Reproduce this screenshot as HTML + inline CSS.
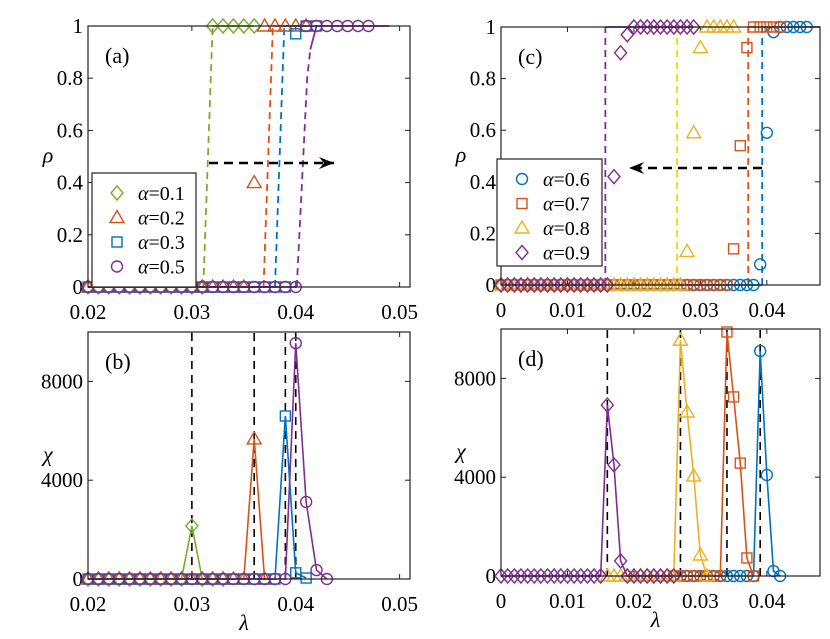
<!DOCTYPE html>
<html><head><meta charset="utf-8"><style>
html,body{margin:0;padding:0;background:#fff}
svg{display:block;font-family:"Liberation Serif","DejaVu Serif",serif}
svg text{font-family:"Liberation Serif","DejaVu Serif",serif;fill:#000}
</style></head><body>
<svg id="chart" width="830" height="639" viewBox="0 0 830 639" font-family="Liberation Serif, serif" xmlns="http://www.w3.org/2000/svg"></svg>
<script>
// ---------- Panel (a) data: rho vs lambda ----------
const aGreenX=[0.020,0.021,0.022,0.023,0.024,0.025,0.026,0.027,0.028,0.029,0.030,0.031,0.032,0.033,0.034,0.035,0.036];
const aGreenY=[0,0,0,0,0,0,0,0,0,0,0,0,1,1,1,1,1];
const aOrangeX=[0.020,0.021,0.022,0.023,0.024,0.025,0.026,0.027,0.028,0.029,0.030,0.031,0.032,0.033,0.034,0.035,0.036,0.037,0.038,0.039,0.040,0.041];
const aOrangeY=[0,0,0,0,0,0,0,0,0,0,0,0,0,0,0,0,0.40,1,1,1,1,1];
const aBlueX=[0.020,0.021,0.022,0.023,0.024,0.025,0.026,0.027,0.028,0.029,0.030,0.031,0.032,0.033,0.034,0.035,0.036,0.037,0.038,0.039,0.040,0.041,0.042];
const aBlueY=[0,0,0,0,0,0,0,0,0,0,0,0,0,0,0,0,0,0,0,0,0.97,1,1];
const aPurpleX=[0.020,0.021,0.022,0.023,0.024,0.025,0.026,0.027,0.028,0.029,0.030,0.031,0.032,0.033,0.034,0.035,0.036,0.037,0.038,0.039,0.040,0.041,0.042,0.043,0.044,0.045,0.046,0.047];
const aPurpleY=[0,0,0,0,0,0,0,0,0,0,0,0,0,0,0,0,0,0,0,0,0,1,1,1,1,1,1,1];
const aCritLow=[0.0311,0.0369,0.0380,0.0401];
const aCritHigh=[0.0320,0.0378,0.0389,0.0414];
const aTopEnd=[0.036,0.041,0.042,0.049];
// ---------- Panel (b) data: chi ----------
const bGreenX=[0.020,0.021,0.022,0.023,0.024,0.025,0.026,0.027,0.028,0.029,0.030,0.031,0.032,0.033];
const bGreenY=[0,0,0,0,0,0,0,0,0,0,2150,0,0,0];
const bOrangeX=[0.020,0.021,0.022,0.023,0.024,0.025,0.026,0.027,0.028,0.029,0.030,0.031,0.032,0.033,0.034,0.035,0.036,0.037];
const bOrangeY=[0,0,0,0,0,0,0,0,0,0,0,0,0,0,0,0,5670,0];
const bBlueX=[0.020,0.021,0.022,0.023,0.024,0.025,0.026,0.027,0.028,0.029,0.030,0.031,0.032,0.033,0.034,0.035,0.036,0.037,0.038,0.039,0.040,0.041];
const bBlueY=[0,0,0,0,0,0,0,0,0,0,0,0,0,0,0,0,0,0,0,6600,250,40];
const bPurpleX=[0.020,0.021,0.022,0.023,0.024,0.025,0.026,0.027,0.028,0.029,0.030,0.031,0.032,0.033,0.034,0.035,0.036,0.037,0.038,0.039,0.040,0.041,0.042,0.043];
const bPurpleY=[0,0,0,0,0,0,0,0,0,0,0,0,0,0,0,0,0,0,0,0,9550,3120,360,0];
const bCrit=[0.030,0.036,0.039,0.040];
// ---------- Panel (c) data ----------
const cBlueX=[0,0.001,0.002,0.003,0.004,0.005,0.006,0.007,0.008,0.009,0.010,0.011,0.012,0.013,0.014,0.015,0.016,0.017,0.018,0.019,0.020,0.021,0.022,0.023,0.024,0.025,0.026,0.027,0.028,0.029,0.030,0.031,0.032,0.033,0.034,0.035,0.036,0.037,0.038,0.039,0.040,0.041,0.042,0.043,0.044,0.045,0.046];
const cBlueY=[0,0,0,0,0,0,0,0,0,0,0,0,0,0,0,0,0,0,0,0,0,0,0,0,0,0,0,0,0,0,0,0,0,0,0,0,0,0,0,0.08,0.59,0.98,1,1,1,1,1];
const cOrangeX=[0,0.001,0.002,0.003,0.004,0.005,0.006,0.007,0.008,0.009,0.010,0.011,0.012,0.013,0.014,0.015,0.016,0.017,0.018,0.019,0.020,0.021,0.022,0.023,0.024,0.025,0.026,0.027,0.028,0.029,0.030,0.031,0.032,0.033,0.034,0.035,0.036,0.037,0.038,0.039,0.040,0.041,0.042];
const cOrangeY=[0,0,0,0,0,0,0,0,0,0,0,0,0,0,0,0,0,0,0,0,0,0,0,0,0,0,0,0,0,0,0,0,0,0,0,0.14,0.54,0.92,1,1,1,1,1];
const cYellowX=[0,0.001,0.002,0.003,0.004,0.005,0.006,0.007,0.008,0.009,0.010,0.011,0.012,0.013,0.014,0.015,0.016,0.017,0.018,0.019,0.020,0.021,0.022,0.023,0.024,0.025,0.026,0.027,0.028,0.029,0.030,0.031,0.032,0.033,0.034,0.035];
const cYellowY=[0,0,0,0,0,0,0,0,0,0,0,0,0,0,0,0,0,0,0,0,0,0,0,0,0,0,0,0,0.13,0.59,0.92,1,1,1,1,1];
const cPurpleX=[0,0.001,0.002,0.003,0.004,0.005,0.006,0.007,0.008,0.009,0.010,0.011,0.012,0.013,0.014,0.015,0.016,0.017,0.018,0.019,0.020,0.021,0.022,0.023,0.024,0.025,0.026,0.027,0.028,0.029];
const cPurpleY=[0,0,0,0,0,0,0,0,0,0,0,0,0,0,0,0,0,0.42,0.90,0.97,1,1,1,1,1,1,1,1,1,1];
const cCrit=[0.0393,0.0372,0.0265,0.0157];
const cTopEnd=[0.048,0.048,0.035,0.029];
// ---------- Panel (d) data ----------
const dBlueX=[0.026,0.027,0.028,0.029,0.030,0.031,0.032,0.033,0.034,0.035,0.036,0.037,0.038,0.039,0.040,0.041,0.042];
const dBlueY=[0,0,0,0,0,0,0,0,0,0,0,0,0,9110,4090,200,0];
const dOrangeX=[0.026,0.027,0.028,0.029,0.030,0.031,0.032,0.033,0.034,0.035,0.036,0.037,0.038];
const dOrangeY=[0,0,0,0,0,0,0,0,9880,7250,4570,730,0];
const dYellowX=[0.016,0.017,0.018,0.019,0.020,0.021,0.022,0.023,0.024,0.025,0.026,0.027,0.028,0.029,0.030,0.031];
const dYellowY=[0,0,0,0,0,0,0,0,0,0,0,9550,6640,4050,850,0];
const dPurpleX=[0,0.001,0.002,0.003,0.004,0.005,0.006,0.007,0.008,0.009,0.010,0.011,0.012,0.013,0.014,0.015,0.016,0.017,0.018,0.019,0.020,0.021,0.022,0.023,0.024,0.025,0.026];
const dPurpleY=[0,0,0,0,0,0,0,0,0,0,0,0,0,0,0,0,6920,4500,610,0,0,0,0,0,0,0,0];
const dCrit=[0.016,0.027,0.034,0.039];
const tickA=[0.02,0.03,0.04,0.05];
const tickC=[0,0.01,0.02,0.03,0.04];
const tickRho=[0,0.2,0.4,0.6,0.8,1];
const tickChi=[0,4000,8000];

const G='#77AC30',O='#D95319',B='#0072BD',P='#7E2F8E',Y='#EDB120',YD='#F7D900';
const FF='Liberation Serif, DejaVu Serif, serif';
const NS='http://www.w3.org/2000/svg';
const svg=document.getElementById('chart');
function el(tag,attrs,parent){const e=document.createElementNS(NS,tag);for(const k in attrs)e.setAttribute(k,attrs[k]);if(tag==='text')e.setAttribute('font-family',FF);(parent||svg).appendChild(e);return e;}
function axis(px0,px1,xmin,xmax,py0,py1,ymin,ymax){return {sx:v=>px0+(v-xmin)/(xmax-xmin)*(px1-px0),sy:v=>py0-(v-ymin)/(ymax-ymin)*(py0-py1),px0,px1,py0,py1};}
function fmt(v){return String(v);}
function frame(ax,name,xt,yt,ylab,label,xlabShow){
  const g=el('g',{});
  
  
  xt.forEach(v=>{const x=ax.sx(v);
    el('line',{x1:x,x2:x,y1:ax.py0,y2:ax.py0-5,stroke:'#222','stroke-width':1},g);
    el('line',{x1:x,x2:x,y1:ax.py1,y2:ax.py1+5,stroke:'#222','stroke-width':1},g);
    const t=el('text',{x:x,y:ax.py0+32,'font-size':21,'text-anchor':'middle'},g);t.textContent=fmt(v);
    
    });
  yt.forEach(v=>{const y=ax.sy(v);
    el('line',{x1:ax.px0,x2:ax.px0+5,y1:y,y2:y,stroke:'#222','stroke-width':1},g);
    el('line',{x1:ax.px1,x2:ax.px1-5,y1:y,y2:y,stroke:'#222','stroke-width':1},g);
    const t=el('text',{x:ax.px0-5,y:y+7,'font-size':21,'text-anchor':'end'},g);t.textContent=fmt(v);
    
    });
  const yl=el('text',{x:ax.px0-40,y:(ax.py0+ax.py1)/2+6,'font-size':22,'font-style':'italic','text-anchor':'middle'},g);yl.textContent=ylab;
  
  
  if(xlabShow){const xl=el('text',{x:(ax.px0+ax.px1)/2-5,y:ax.py0+51,'font-size':22,'font-style':'italic','text-anchor':'middle'},g);xl.textContent='λ';
    
    }
  const pl=el('text',{x:ax.px0+17,y:ax.py1+37,'font-size':22},g);pl.textContent=label;
  
  
}
function box(ax){const r=el('rect',{x:ax.px0,y:ax.py1,width:ax.px1-ax.px0,height:ax.py0-ax.py1,fill:'none',stroke:'#222','stroke-width':1.2});
  
  }
function marker(g,type,x,y,c){
  let m;
  if(type==='d')m=el('polygon',{points:`${x},${y-7} ${x+6},${y} ${x},${y+7} ${x-6},${y}`},g);
  else if(type==='t')m=el('polygon',{points:`${x},${y-7} ${x+7},${y+5} ${x-7},${y+5}`},g);
  else if(type==='s')m=el('rect',{x:x-5,y:y-5,width:10,height:10},g);
  else m=el('circle',{cx:x,cy:y,r:5.5},g);
  m.setAttribute('fill','none');m.setAttribute('stroke',c);m.setAttribute('stroke-width',1.4);
  
  
}
function series(ax,xs,ys,type,c,name,withLine){
  const g=el('g',{});
  
  
  if(withLine){const pts=xs.map((v,i)=>ax.sx(v)+','+ax.sy(ys[i])).join(' ');
    el('polyline',{points:pts,fill:'none',stroke:c,'stroke-width':1.6},g);}
  xs.forEach((v,i)=>marker(g,type,ax.sx(v),ax.sy(ys[i]),c));
}
function theory(ax,x0,xl,xh,xe,c,c2,name,mid){
  const g=el('g',{});
  
  
  el('line',{x1:ax.sx(x0),x2:ax.sx(xl),y1:ax.sy(0),y2:ax.sy(0),stroke:c,'stroke-width':1.8},g);
  if(mid){
    el('polyline',{points:`${ax.sx(xl)},${ax.sy(0)} ${ax.sx(xh-0.0003)},${ax.sy(0.8)} ${ax.sx(xh)},${ax.sy(0.91)}`,fill:'none',stroke:c2,'stroke-width':1.8,'stroke-dasharray':'7,5'},g);
    el('polyline',{points:`${ax.sx(xh)},${ax.sy(0.91)} ${ax.sx(xh+0.0006)},${ax.sy(1)} ${ax.sx(xe)},${ax.sy(1)}`,fill:'none',stroke:c,'stroke-width':1.8},g);
  } else {
    el('line',{x1:ax.sx(xl),x2:ax.sx(xh),y1:ax.sy(0),y2:ax.sy(1),stroke:c2,'stroke-width':1.8,'stroke-dasharray':'7,5'},g);
    el('line',{x1:ax.sx(xh),x2:ax.sx(xe),y1:ax.sy(1),y2:ax.sy(1),stroke:c,'stroke-width':1.8},g);
  }
}
function vdash(ax,x,name){const l=el('line',{x1:ax.sx(x),x2:ax.sx(x),y1:ax.py0,y2:ax.py1,stroke:'#000','stroke-width':1.6,'stroke-dasharray':'8,6'});
  
  }
function legend(x,y,w,h,entries,name){
  const g=el('g',{});
  
  
  el('rect',{x:x,y:y,width:w,height:h,fill:'#fff',stroke:'#222','stroke-width':1.2},g);
  entries.forEach((e,i)=>{const yy=y+20+i*24.5;
    const eg=el('g',{},g);
    
    
    marker(eg,e[0],x+25,yy,e[1]);
    const t=el('text',{x:x+46,y:yy+7,'font-size':20},eg);
    const a=document.createElementNS(NS,'tspan');a.setAttribute('font-style','italic');a.textContent='α';t.appendChild(a);
    t.appendChild(document.createTextNode('='+e[2]));});
}
function arrow(x1,x2,y,name){
  const g=el('g',{});
  
  
  el('line',{x1:x1,x2:x2,y1:y,y2:y,stroke:'#000','stroke-width':2.4,'stroke-dasharray':'9,6'},g);
  const d=x2>x1?1:-1;
  el('polygon',{points:`${x2},${y} ${x2-d*15},${y-6} ${x2-d*10},${y} ${x2-d*15},${y+6}`,fill:'#000'},g);
}

// Panel a
const A=axis(88,410,0.02,0.0510,287,26,0,1);
frame(A,'panel-a-axes',tickA,tickRho,'ρ','(a)',false);
const aX=[aGreenX,aOrangeX,aBlueX,aPurpleX],aY=[aGreenY,aOrangeY,aBlueY,aPurpleY],aC=[G,O,B,P],aT=['d','t','s','o'],aN=['alpha-0.1','alpha-0.2','alpha-0.3','alpha-0.5'];
for(let i=0;i<4;i++)theory(A,0.02,aCritLow[i],aCritHigh[i],aTopEnd[i],aC[i],aC[i],'theory-'+aN[i],i===3);
for(let i=0;i<4;i++)series(A,aX[i],aY[i],aT[i],aC[i],'series-'+aN[i],false);
arrow(209,334,163,'arrow-a');
box(A);
legend(92,173,104,114,[['d',G,'0.1'],['t',O,'0.2'],['s',B,'0.3'],['o',P,'0.5']],'legend-a');

// Panel b
const Bx=axis(88,410,0.02,0.0510,579,332,0,10000);
frame(Bx,'panel-b-axes',tickA,tickChi,'χ','(b)',true);
bCrit.forEach(v=>vdash(Bx,v,'critical-line'));
const bX=[bGreenX,bOrangeX,bBlueX,bPurpleX],bY=[bGreenY,bOrangeY,bBlueY,bPurpleY];
for(let i=0;i<4;i++)series(Bx,bX[i],bY[i],aT[i],aC[i],'chi-'+aN[i],true);
box(Bx);

// Panel c
const C=axis(501,820,0,0.048,285,27,0,1);
frame(C,'panel-c-axes',tickC,tickRho,'ρ','(c)',false);
const cX=[cBlueX,cOrangeX,cYellowX,cPurpleX],cY=[cBlueY,cOrangeY,cYellowY,cPurpleY],cC=[B,O,Y,P],cC2=[B,O,YD,P],cT=['o','s','t','d'],cN=['alpha-0.6','alpha-0.7','alpha-0.8','alpha-0.9'];
for(let i=0;i<4;i++)theory(C,0,cCrit[i],cCrit[i],cTopEnd[i],cC2[i],cC2[i],'theory-'+cN[i],false);
for(let i=0;i<4;i++)series(C,cX[i],cY[i],cT[i],cC[i],'series-'+cN[i],false);
arrow(762,629,168,'arrow-c');
box(C);
legend(497,159,105,107,[['o',B,'0.6'],['s',O,'0.7'],['t',Y,'0.8'],['d',P,'0.9']],'legend-c');

// Panel d
const D=axis(501,820,0,0.048,576,329,0,10000);
frame(D,'panel-d-axes',tickC,tickChi,'χ','(d)',true);
dCrit.forEach(v=>vdash(D,v,'critical-line'));
const dX=[dBlueX,dOrangeX,dYellowX,dPurpleX],dY=[dBlueY,dOrangeY,dYellowY,dPurpleY];
for(let i=0;i<4;i++)series(D,dX[i],dY[i],cT[i],cC[i],'chi-'+cN[i],true);
box(D);
</script>
</body></html>
